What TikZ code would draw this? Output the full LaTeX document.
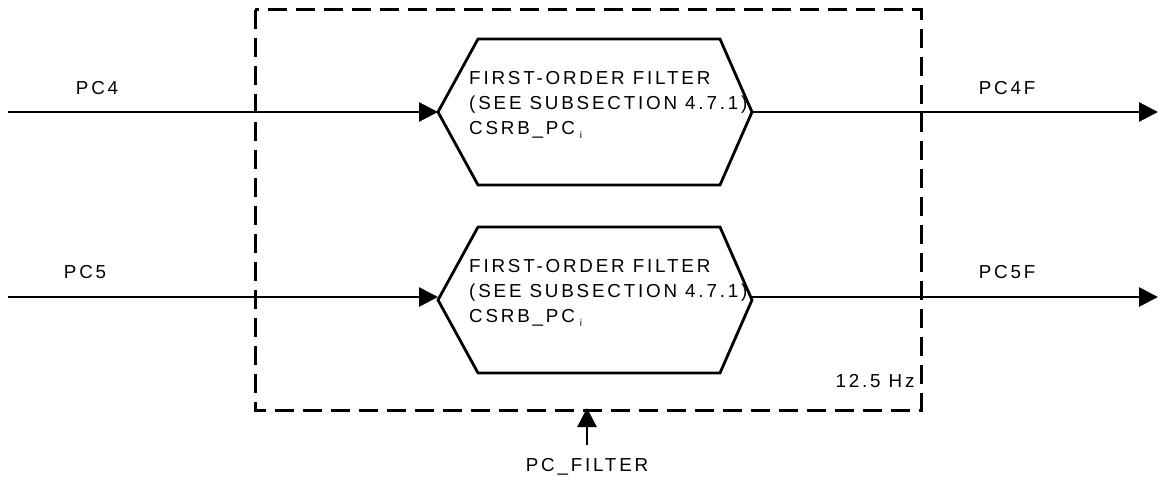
\documentclass[tikz,border=0pt]{standalone}
\usepackage{fontspec}
\setmainfont{Liberation Sans}[LetterSpace=15]
\usetikzlibrary{arrows.meta}
\begin{document}
\begin{tikzpicture}[x=1pt,y=-1pt,
  line/.style={line width=2.8pt},
  arr/.style={line, -{Triangle[length=19pt,width=19pt]}},
  hexa/.style={line width=2.8pt, line join=miter},
  frame/.style={line width=3pt, dash pattern=on 19pt off 9pt},
  lbl/.style={font=\fontsize{18.8}{22}\selectfont, inner sep=0pt},
  txt/.style={font=\fontsize{18.8}{25}\selectfont, inner sep=0pt, align=left, anchor=west}]
\useasboundingbox (0,0) rectangle (1159,481);
% dashed frame
\draw[frame] (255,10) rectangle (921,410);
% hexagons
\foreach \n/\y in {1/112, 2/300} {
  \coordinate (h\n w) at (438,\y);
  \coordinate (h\n e) at (752,\y);
  \draw[hexa] (h\n w) -- ++(40,-73) -- ++(242,0) -- (h\n e) -- ++(-32,73) -- ++(-242,0) -- cycle;
  \node[txt] (t\n) at (469,\y-7) {FIRST-ORDER FILTER\\(SEE SUBSECTION 4.7.1)\\CSRB\_PC\hspace{5pt}{\fontsize{10}{10}\selectfont\raisebox{-4pt}{i}}};
}
% inputs / outputs
\coordinate (in1) at (8,112);
\coordinate (in2) at (8,297);
\coordinate (out1) at (1158,112);
\coordinate (out2) at (1158,297);
\draw[arr] (in1) -- (h1w);
\draw[arr] (in2) -- (h2w |- in2);
\draw[arr] (h1e) -- (out1);
\draw[arr] (h2e |- in2) -- (out2);
\node[lbl] (pc4) at (97,88) {PC4};
\node[lbl] (pc5) at (85,272) {PC5};
\node[lbl] (pc4f) at (1007,88) {PC4F};
\node[lbl] (pc5f) at (1007,272) {PC5F};
% PC_FILTER
\coordinate (fb) at (587,445);
\coordinate (ft) at (587,408);
\draw[arr] (fb) -- (ft);
\node[lbl] (pcf) at (587,467) {PC\_FILTER};
\node[lbl] (hz) at (875,381) {12.5 Hz};
\end{tikzpicture}
\end{document}
